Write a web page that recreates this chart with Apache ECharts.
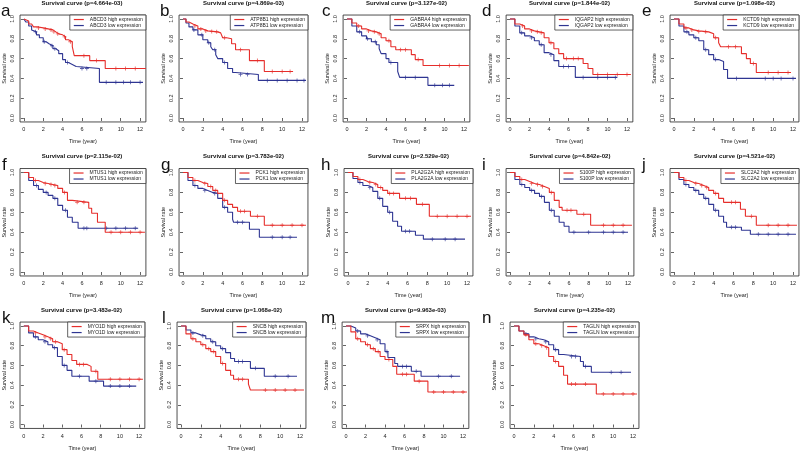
<!DOCTYPE html>
<html><head><meta charset="utf-8">
<script src="https://cdn.jsdelivr.net/npm/echarts@6/dist/echarts.min.js"></script>
<style>html,body{margin:0;padding:0;background:#fff}#c{width:800px;height:453px}</style>
</head><body><div id="c"></div>
<script>
// ---------------- DATA ----------------
const genes = ['ABCD3','ATP8B1','GABRA4','IQGAP2','KCTD9','MTUS1','PCK1','PLA2G2A','S100P','SLC2A2','MYO1D','SNCB','SRPX','TAGLN'];
const letters = ['a','b','c','d','e','f','g','h','i','j','k','l','m','n'];
const pValues = ['4.664e-03','4.869e-03','3.127e-02','1.844e-02','1.098e-02','2.115e-02','3.783e-02','2.529e-02','4.842e-02','4.521e-02','3.483e-02','1.068e-02','9.963e-03','4.235e-02'];
const xTicks = [0,2,4,6,8,10,12];
const yTicks = [0,0.2,0.4,0.6,0.8,1.0];

// Kaplan-Meier step points [time (year), survival rate]
const highABCD3 = [[0,1],[0.2,0.98],[0.5,0.95],[0.8,0.93],[1,0.92],[1.5,0.91],[2,0.9],[2.5,0.89],[3,0.87],[3.3,0.85],[3.6,0.84],[4,0.82],[4.3,0.79],[4.6,0.77],[5,0.72],[5.2,0.63],[6.8,0.58],[8.4,0.5],[12.6,0.5]];
const lowABCD3  = [[0,1],[0.2,0.97],[0.5,0.93],[0.8,0.89],[1,0.87],[1.3,0.84],[1.6,0.81],[2,0.77],[2.3,0.75],[2.6,0.73],[3,0.7],[3.3,0.68],[3.6,0.65],[4,0.59],[4.3,0.56],[4.6,0.54],[5,0.52],[5.4,0.5],[7.8,0.36],[12.3,0.36]];
const highATP8B1 = [[0,1],[0.3,0.97],[0.6,0.95],[1,0.93],[1.5,0.9],[2,0.88],[2.5,0.875],[3,0.87],[3.5,0.86],[3.8,0.84],[4,0.81],[4.4,0.8],[4.9,0.75],[5.3,0.69],[6.7,0.58],[8.2,0.47],[11.1,0.47]];
const lowATP8B1  = [[0,1],[0.3,0.96],[0.6,0.92],[1,0.89],[1.5,0.84],[2,0.79],[2.5,0.76],[2.8,0.72],[3,0.69],[3.3,0.64],[3.5,0.6],[4,0.56],[4.5,0.5],[5,0.46],[5.3,0.44],[7.6,0.38],[12.4,0.38]];
const highGABRA4 = [[0,1],[0.5,0.96],[1,0.93],[1.5,0.9],[2,0.88],[2.5,0.87],[3,0.85],[3.5,0.81],[4,0.78],[4.5,0.72],[5,0.69],[6.6,0.64],[7,0.59],[7.8,0.53],[12.5,0.53]];
const lowGABRA4  = [[0,1],[0.5,0.93],[1,0.87],[1.5,0.83],[2,0.8],[2.5,0.77],[3,0.74],[3.3,0.7],[3.5,0.65],[4,0.6],[4.3,0.56],[5.2,0.47],[5.4,0.41],[8.3,0.33],[11,0.33]];
const highIQGAP2 = [[0,1],[0.5,0.95],[1,0.93],[1.5,0.9],[2,0.88],[2.5,0.87],[3,0.86],[3.5,0.81],[4,0.76],[4.5,0.7],[5,0.65],[5.5,0.6],[7.5,0.55],[8,0.5],[8.5,0.44],[12.4,0.44]];
const lowIQGAP2  = [[0,1],[0.5,0.93],[1,0.86],[1.5,0.83],[2,0.81],[2.5,0.78],[3,0.74],[3.5,0.66],[4,0.64],[4.5,0.58],[5,0.52],[6.7,0.41],[11,0.41]];
const highKCTD9 = [[0,1],[0.5,0.95],[1,0.91],[1.5,0.89],[2,0.88],[2.5,0.875],[3,0.87],[3.5,0.85],[4,0.81],[4.5,0.76],[4.7,0.72],[6.8,0.65],[7.3,0.6],[7.7,0.55],[8.3,0.46],[11.8,0.46]];
const lowKCTD9  = [[0,1],[0.5,0.93],[1,0.87],[1.5,0.84],[2,0.81],[2.5,0.78],[3,0.69],[3.5,0.64],[4,0.59],[4.5,0.57],[5,0.49],[5.4,0.4],[12.3,0.4]];
const highMTUS1 = [[0,1],[0.5,0.95],[1,0.92],[1.5,0.9],[2,0.89],[2.5,0.88],[3,0.87],[3.5,0.84],[4,0.8],[4.5,0.72],[5,0.7],[6.7,0.64],[7,0.59],[7.6,0.5],[8.4,0.4],[12.5,0.4]];
const lowMTUS1  = [[0,1],[0.5,0.92],[1,0.87],[1.5,0.83],[2,0.8],[2.5,0.77],[3,0.74],[3.5,0.67],[4,0.62],[4.5,0.55],[5,0.5],[5.6,0.44],[11.8,0.44]];
const highPCK1 = [[0,1],[0.5,0.95],[1,0.92],[1.5,0.9],[2,0.89],[2.5,0.86],[3,0.82],[3.5,0.79],[4,0.72],[4.5,0.68],[5,0.65],[5.5,0.61],[6.8,0.56],[8.2,0.47],[12.4,0.47]];
const lowPCK1  = [[0,1],[0.5,0.92],[1,0.87],[1.5,0.84],[2,0.82],[2.5,0.8],[3,0.79],[3.5,0.74],[4,0.65],[4.5,0.6],[5,0.53],[5.1,0.5],[6.7,0.43],[7.7,0.35],[11.5,0.35]];
const highPLA2G2A = [[0,1],[0.5,0.96],[1,0.93],[1.5,0.91],[2,0.9],[2.5,0.88],[3,0.85],[3.5,0.82],[4,0.79],[5.2,0.74],[6.9,0.68],[8.2,0.56],[12.4,0.56]];
const lowPLA2G2A  = [[0,1],[0.5,0.94],[1,0.9],[1.5,0.87],[2,0.85],[2.5,0.81],[3,0.74],[3.5,0.66],[4,0.6],[4.5,0.51],[5,0.46],[5.4,0.41],[6.8,0.37],[7.6,0.33],[11.8,0.33]];
const highS100P = [[0,1],[0.5,0.96],[1,0.93],[1.5,0.91],[2,0.89],[2.5,0.88],[3,0.86],[3.5,0.84],[4,0.8],[4.5,0.72],[5,0.65],[5.3,0.62],[6.8,0.58],[8.2,0.47],[12.4,0.47]];
const lowS100P  = [[0,1],[0.5,0.93],[1,0.88],[1.5,0.85],[2,0.82],[2.5,0.79],[3,0.76],[3.5,0.7],[4,0.62],[4.5,0.56],[5,0.5],[5.5,0.46],[6,0.4],[12,0.4]];
const highSLC2A2 = [[0,1],[0.5,0.95],[1,0.92],[1.5,0.9],[2,0.89],[2.5,0.87],[3,0.85],[3.5,0.82],[4,0.79],[4.5,0.74],[5,0.7],[6.7,0.63],[7.2,0.56],[8.3,0.47],[12.4,0.47]];
const lowSLC2A2  = [[0,1],[0.5,0.93],[1,0.88],[1.5,0.85],[2,0.82],[2.5,0.78],[3,0.74],[3.5,0.68],[4,0.62],[4.5,0.56],[5,0.5],[5.3,0.45],[6.8,0.42],[7.7,0.38],[12.3,0.38]];
const highMYO1D = [[0,1],[0.5,0.95],[1,0.93],[1.5,0.91],[2,0.89],[2.5,0.87],[3,0.84],[3.5,0.82],[4,0.76],[4.5,0.71],[5,0.65],[5.5,0.61],[6.6,0.59],[7,0.54],[7.7,0.46],[12.4,0.46]];
const lowMYO1D  = [[0,1],[0.5,0.93],[1,0.89],[1.5,0.86],[2,0.84],[2.5,0.81],[3,0.78],[3.5,0.69],[4,0.6],[4.5,0.55],[5,0.49],[6.8,0.44],[8.3,0.39],[11.7,0.39]];
const highSNCB = [[0,1],[0.5,0.92],[1,0.87],[1.5,0.84],[2,0.81],[2.5,0.77],[3,0.74],[3.5,0.69],[4,0.62],[4.5,0.55],[5,0.5],[5.3,0.46],[6.8,0.41],[7,0.35],[12.4,0.35]];
const lowSNCB  = [[0,1],[0.5,0.96],[1,0.93],[1.5,0.91],[2,0.9],[2.5,0.87],[3,0.84],[3.5,0.8],[4,0.77],[4.5,0.73],[5,0.67],[5.4,0.64],[7,0.57],[8.4,0.49],[11.7,0.49]];
const highSRPX = [[0,1],[0.5,0.94],[1,0.87],[1.5,0.84],[2,0.81],[2.5,0.77],[3,0.74],[3.5,0.69],[4,0.66],[4.8,0.59],[5.2,0.51],[7,0.44],[8.4,0.33],[12.4,0.33]];
const lowSRPX  = [[0,1],[0.5,0.98],[1,0.95],[1.5,0.92],[2,0.9],[2.5,0.88],[3,0.86],[3.5,0.82],[4,0.74],[4.3,0.68],[5,0.62],[5.3,0.59],[6.7,0.54],[7.7,0.49],[11.7,0.49]];
const highTAGLN = [[0,1],[0.5,0.95],[1,0.91],[1.5,0.86],[2,0.82],[2.5,0.8],[3,0.78],[3.5,0.69],[4,0.64],[4.5,0.59],[5,0.5],[5.4,0.41],[8.3,0.31],[12.4,0.31]];
const lowTAGLN  = [[0,1],[0.5,0.95],[1,0.92],[1.5,0.89],[2,0.87],[2.5,0.86],[3,0.84],[3.5,0.81],[4,0.76],[4.5,0.71],[5,0.69],[6.7,0.64],[7,0.59],[7.8,0.53],[11.8,0.53]];

// censoring times (year)
const censorHigh = [
  [1.5,2.2,2.8,3.1,3.5,4.2,4.8,6.2,7.5,9.5,10.5,11.5],
  [1.2,1.8,2.3,2.9,3.4,4.2,5.8,7.5,9,10,10.8],
  [1.2,2.2,2.8,3.3,4.3,5.5,6,7.3,9.5,10.5,11.5],
  [1.3,2.2,2.8,3.2,4.2,5.8,6.5,7,9,10,11,12],
  [1.2,1.8,2.5,3.2,4.2,5.5,6.2,8,9.5,10.5,11.5],
  [1.2,2.2,2.8,3.2,4.2,5.5,6.2,9,10,11,12],
  [1.2,2.2,2.8,3.3,4.2,5.8,6.2,7.5,9,10,11,12],
  [1.2,2.2,2.8,3.3,4.2,4.6,5.8,6.3,7.5,9,10,11,12],
  [1.2,2.2,2.8,3.3,4.2,5.8,6.2,7.5,9.5,10.5,11.5],
  [1.2,2.2,2.8,3.3,4.2,5.8,6.2,7.8,9.5,10.5,11.5],
  [1.2,2.2,2.8,3.3,4.2,5.8,6.2,7.5,9,10,11,12],
  [1.2,2.2,2.8,3.3,4.2,5.8,6.2,8.5,9.5,10.5,11.5],
  [1.2,2.2,2.8,3.3,4.4,5.8,6.2,7.5,9,10,11,12],
  [1.2,2.2,2.8,3.3,4.2,5.8,6.2,7.2,9,10,11,12]
];
const censorLow = [
  [1.2,2.1,2.9,3.2,4.5,6,6.5,8.5,9.5,10.3,11,12],
  [1.1,1.9,2.6,3.2,4.2,5.8,6.5,8.5,9.5,10.5,11.5,12.2],
  [1.3,2.1,2.9,4.5,6,7,9,9.8,10.5],
  [1.2,2.2,3.2,4.2,5.5,6,7.5,9,10,10.8],
  [1.3,2.2,3.2,4.2,6.3,9.2,10,10.8,12],
  [1.3,2.3,3.2,4.3,6.2,6.5,8.5,9.5,10.5,11.5],
  [1.2,2.2,3.2,4.2,5.5,6,9,10,10.8],
  [1.2,2.2,3.2,4.2,5.8,6.2,8.5,9.8,10.8],
  [1.2,2.2,3.2,4.2,6.5,8,9.5,10.5,11.5],
  [1.2,2.2,3.2,4.2,5.8,6.2,8.5,9.5,10.5,11.5],
  [1.2,2.2,3.2,4.2,5.8,7.5,9,10,11],
  [1.2,2.2,3.2,4.2,5.8,6.2,7.5,9.5,10.8],
  [1.2,2.2,3.2,4.2,5.8,6.2,7.2,9.5,10.8],
  [1.2,2.2,3.2,4.2,5.8,6.2,7.2,9.8,10.8]
];
const highCurves = [highABCD3,highATP8B1,highGABRA4,highIQGAP2,highKCTD9,highMTUS1,highPCK1,highPLA2G2A,highS100P,highSLC2A2,highMYO1D,highSNCB,highSRPX,highTAGLN];
const lowCurves  = [lowABCD3,lowATP8B1,lowGABRA4,lowIQGAP2,lowKCTD9,lowMTUS1,lowPCK1,lowPLA2G2A,lowS100P,lowSLC2A2,lowMYO1D,lowSNCB,lowSRPX,lowTAGLN];

// ---------------- LAYOUT ----------------
const X_MIN = -0.4, X_MAX = 12.6, Y_MIN = -0.04, Y_MAX = 1.04;
const rowY = [[19,118],[172.5,272],[326,424.5]];
const colX = [
  [[22,140],[183,302],[347,464],[510,627],[674,793]],
  [[22,140],[183,302],[348,467],[510,628],[674,793]],
  [[22,139],[181,300],[346,463],[514,633]]
];
const letterX = [[1,160,322,482,642],[2,161,321,482,642],[2,162,321,482]];
const RED = '#e62e2b', BLUE = '#2e3592';
const FONT = '"Liberation Sans", Arial, sans-serif';
const plus = 'path://M4,0h2v4h4v2h-4v4h-2v-4h-4v-2h4z';

function survAt(curve, t){ let v = curve[0][1]; for (const p of curve){ if (p[0] <= t) v = p[1]; } return v; }

const grids=[], xAxes=[], yAxes=[], series=[], legends=[], graphics=[];
let idx = 0;
rowY.forEach((ry, r) => {
  colX[r].forEach((cx, c) => {
    const i = idx++;
    const s = (cx[1]-cx[0])/12, h = ry[1]-ry[0];
    const left = cx[0] + X_MIN*s, width = (X_MAX-X_MIN)*s;
    const top = ry[0] - (Y_MAX-1)*h, height = (Y_MAX-Y_MIN)*h;
    grids.push({left, top, width, height, show:true, borderColor:'#222', borderWidth:0.8, backgroundColor:'transparent', containLabel:false});
    xAxes.push({type:'value', gridIndex:i, min:X_MIN, max:X_MAX, splitLine:{show:false}, axisLine:{show:false},
      axisTick:{show:true, customValues:xTicks, length:3, lineStyle:{color:'#222', width:0.7}},
      axisLabel:{customValues:xTicks, fontSize:5.5, margin:5, color:'#222', fontFamily:FONT},
      name:'Time (year)', nameLocation:'middle', nameGap:17, nameTextStyle:{fontSize:5.5, color:'#222', fontFamily:FONT}});
    yAxes.push({type:'value', gridIndex:i, min:Y_MIN, max:Y_MAX, splitLine:{show:false}, axisLine:{show:false},
      axisTick:{show:true, customValues:yTicks, length:3, lineStyle:{color:'#222', width:0.7}},
      axisLabel:{customValues:yTicks, fontSize:5.5, margin:5, color:'#222', rotate:90, fontFamily:FONT, formatter:v=>v.toFixed(1)},
      name:'Survival rate', nameLocation:'middle', nameGap:13, nameTextStyle:{fontSize:5.5, color:'#222', fontFamily:FONT}});
    const hn = genes[i]+' high expression', ln = genes[i]+' low expression';
    series.push({type:'line', name:hn, xAxisIndex:i, yAxisIndex:i, data:highCurves[i], step:'end', showSymbol:false, lineStyle:{color:RED, width:1.1}, itemStyle:{color:RED}, z:3});
    series.push({type:'line', name:ln, xAxisIndex:i, yAxisIndex:i, data:lowCurves[i], step:'end', showSymbol:false, lineStyle:{color:BLUE, width:1.1}, itemStyle:{color:BLUE}, z:2});
    series.push({type:'scatter', name:hn+' censor', xAxisIndex:i, yAxisIndex:i, data:censorHigh[i].map(t=>[t, survAt(highCurves[i], t)]), symbol:plus, symbolSize:4, itemStyle:{color:RED}, z:3});
    series.push({type:'scatter', name:ln+' censor', xAxisIndex:i, yAxisIndex:i, data:censorLow[i].map(t=>[t, survAt(lowCurves[i], t)]), symbol:plus, symbolSize:4, itemStyle:{color:BLUE}, z:2});
    legends.push({data:[hn, ln], orient:'vertical', right: 800-(left+width), top: top, icon:'rect', itemWidth:10, itemHeight:1.2, itemGap:1,
      padding:[2,3,2,4], borderColor:'#222', borderWidth:0.7, backgroundColor:'#fff', selectedMode:false,
      textStyle:{fontSize:5, color:'#222', fontFamily:FONT, padding:[0,0,0,1]}});
    graphics.push({type:'text', x:left+width/2, y:top-12, style:{text:'Survival curve (p='+pValues[i]+')', font:'bold 6px '+FONT, fill:'#111', align:'center', verticalAlign:'middle'}});
    graphics.push({type:'text', x:letterX[r][c], y:top-3.5, style:{text:letters[i], font:'17px '+FONT, fill:'#111', align:'left', verticalAlign:'middle'}});
  });
});

const chart = echarts.init(document.getElementById('c'), null, {renderer:'canvas'});
chart.setOption({animation:false, backgroundColor:'#fff', grid:grids, xAxis:xAxes, yAxis:yAxes, series, legend:legends, graphic:graphics, tooltip:{show:false}});
</script></body></html>
